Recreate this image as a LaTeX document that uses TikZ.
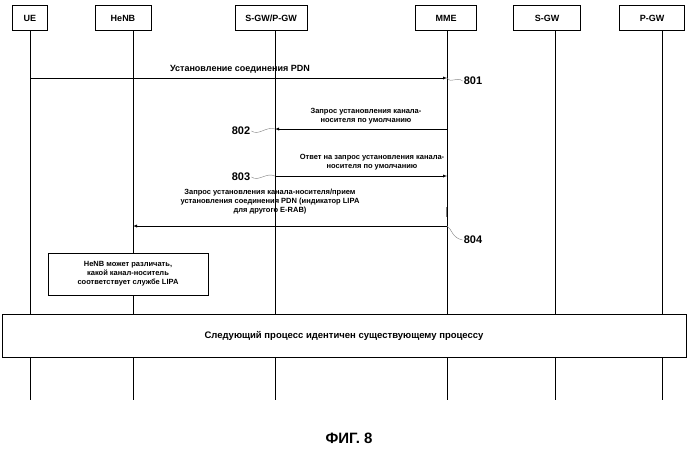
\documentclass[tikz,border=0pt]{standalone}
\usepackage{fontspec}
\setmainfont{Liberation Sans}
\usetikzlibrary{positioning}

\tikzset{
  entity/.style={draw, thick, minimum height=25pt, inner sep=2pt, font=\fontsize{9}{10}\selectfont\bfseries},
  msg/.style={-latex, thin},
  txt/.style={font=\fontsize{7.5}{9}\selectfont\bfseries, align=center, inner sep=0pt},
  num/.style={font=\fontsize{11}{12}\selectfont\bfseries, inner sep=1pt},
  tilde/.style={thin, gray}
}

\begin{document}
\begin{tikzpicture}[x=1pt, y=-1pt]
  \useasboundingbox (0,0) rectangle (699,448);

  % участники
  \node[entity, minimum width=35pt] (UE) at (30,18) {UE};
  \node[entity, minimum width=56pt] (HeNB) at (123,18) {HeNB};
  \node[entity, minimum width=72pt] (SPGW) at (271,18) {S-GW/P-GW};
  \node[entity, minimum width=61pt] (MME) at (446,18) {MME};
  \node[entity, minimum width=67pt] (SGW) at (547,18) {S-GW};
  \node[entity, minimum width=65pt] (PGW) at (652,18) {P-GW};

  % линии жизни
  \foreach \n/\x in {UE/30, HeNB/133, SPGW/275, MME/447, SGW/555, PGW/662} {
    \coordinate (\n top) at (\x,31);
    \coordinate (\n bot) at (\x,400);
    \draw[thin] (\n top) -- (\n bot);
  }

  % 801
  \coordinate (a1) at (30,78);
  \coordinate (b1) at (447,78);
  \draw[msg] (a1) -- (b1);
  \node[txt, font=\fontsize{9}{10}\selectfont\bfseries] (t801) at (240,69) {Установление соединения PDN};
  \node[num] (n801) at (473,81) {801};
  \draw[tilde] (b1) .. controls (452,84) and (456,76) .. (n801.west);

  % 802
  \coordinate (a2) at (447,129);
  \coordinate (b2) at (275,129);
  \draw[msg] (a2) -- (b2);
  \node[txt] (t802) at (366,116) {Запрос установления канала-\\носителя по умолчанию};
  \node[num] (n802) at (241,131) {802};
  \draw[tilde] (n802.east) .. controls (259,136) and (266,126) .. (b2);

  % 803
  \coordinate (a3) at (275,176);
  \coordinate (b3) at (447,176);
  \draw[msg] (a3) -- (b3);
  \node[txt] (t803) at (372,162) {Ответ на запрос установления канала-\\носителя по умолчанию};
  \node[num] (n803) at (241,177) {803};
  \draw[tilde] (n803.east) .. controls (259,182) and (266,172) .. (a3);

  % 804
  \coordinate (a4) at (447,226);
  \coordinate (b4) at (133,226);
  \draw[msg] (a4) -- (b4);
  \node[txt] (t804) at (270,202) {Запрос установления канала-носителя/прием\\установления соединения PDN (индикатор LIPA\\для другого E-RAB)};
  \node[num] (n804) at (473,240) {804};
  \draw[tilde] (a4) .. controls (452,229) and (452,238) .. (n804.west);
  \draw[tilde] (446,207) -- (446,217);

  % примечание HeNB
  \node[draw, fill=white, txt, inner sep=3pt, minimum width=160pt, minimum height=42pt] (note) at (128,274)
    {HeNB может различать,\\какой канал-носитель\\соответствует службе LIPA};

  % общий процесс
  \node[draw, fill=white, minimum width=684pt, minimum height=43pt, font=\fontsize{9.5}{11}\selectfont\bfseries] (common) at (344,336)
    {Следующий процесс идентичен существующему процессу};

  \node[font=\fontsize{15}{17}\selectfont\bfseries] (fig) at (349,438) {ФИГ. 8};
\end{tikzpicture}
\end{document}
